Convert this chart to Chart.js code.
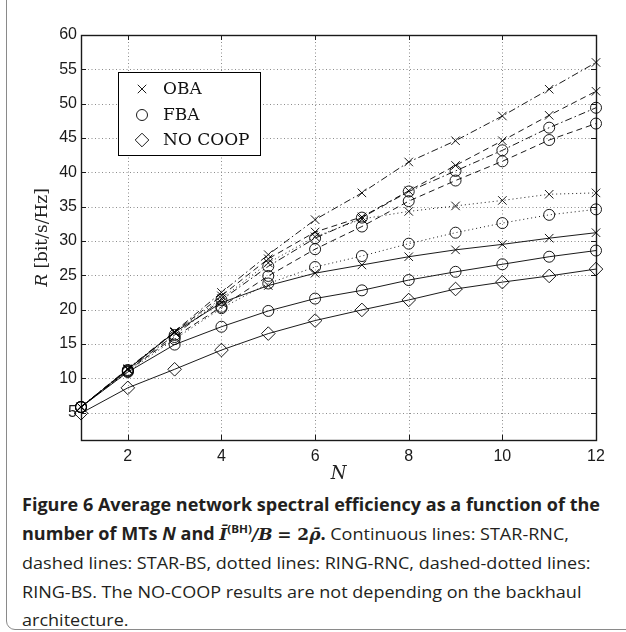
<!DOCTYPE html>
<html>
<head>
<meta charset="utf-8">
<script src="https://cdn.jsdelivr.net/npm/chart.js@4.4.1/dist/chart.umd.min.js"></script>
<style>
  html, body { margin: 0; padding: 0; background: #fff; }
  body { width: 626px; height: 632px; position: relative; overflow: hidden; }
  #frame { position: absolute; left: 6px; top: -20px; width: 700px; height: 650px;
           border: 1px solid #8a8a8a; border-radius: 9px; box-sizing: border-box; }
  #wrap { position: absolute; left: 0; top: 0; width: 626px; height: 490px; }
  #caption { position: absolute; left: 22px; top: 491px; font-family: "Open Sans", sans-serif;
             font-size: 17px; line-height: 28.5px; color: #231f20; white-space: nowrap; }
  #caption .ln { transform-origin: 0 50%; width: max-content; }
  #caption .m { font-family: "DejaVu Serif", serif; font-style: italic; font-weight: bold; font-size: 16px; }
  #caption .r { font-family: "DejaVu Serif", serif; font-weight: bold; font-size: 16px; }
  #caption sup { font-size: 11px; line-height: 0; }
</style>
</head>
<body>
<div id="frame"></div>
<div id="wrap"><canvas id="chart" width="626" height="490"></canvas></div>
<div id="caption">
  <div class="ln"><b>Figure 6 Average network spectral efficiency as a function of the</b></div>
  <div class="ln"><b>number of MTs <i>N</i> and <span class="m">&#298;</span><sup>(BH)</sup><span class="m">/B</span> <span class="r">= 2</span><span class="m">&rho;&#772;</span>.</b> Continuous lines: STAR-RNC,</div>
  <div class="ln">dashed lines: STAR-BS, dotted lines: RING-RNC, dashed-dotted lines:</div>
  <div class="ln">RING-BS. The NO-COOP results are not depending on the backhaul</div>
  <div class="ln">architecture.</div>
</div>
<script>
// number of MTs
const nValues = [1, 2, 3, 4, 5, 6, 7, 8, 9, 10, 11, 12];

// OBA (x markers)
const obaStarRnc  = [5.8, 11.3, 16.7, 21.0, 23.5, 25.3, 26.5, 27.7, 28.7, 29.5, 30.4, 31.2];
const obaStarBs   = [5.8, 11.3, 16.7, 22.0, 27.4, 31.3, 33.5, 37.3, 41.0, 44.6, 48.3, 51.8];
const obaRingRnc  = [5.8, 11.3, 16.7, 21.6, 26.8, 30.6, 33.2, 34.3, 35.1, 35.9, 36.8, 37.0];
const obaRingBs   = [5.8, 11.4, 16.8, 22.5, 28.0, 33.1, 37.0, 41.5, 44.6, 48.2, 52.1, 56.0];

// FBA (o markers)
const fbaStarRnc  = [5.8, 10.9, 14.9, 17.5, 19.8, 21.6, 22.8, 24.3, 25.5, 26.6, 27.7, 28.6];
const fbaStarBs   = [5.8, 11.1, 16.0, 20.4, 24.9, 28.8, 32.1, 35.8, 38.8, 41.6, 44.7, 47.1];
const fbaRingRnc  = [5.8, 11.0, 15.7, 20.2, 23.8, 26.2, 27.8, 29.6, 31.2, 32.6, 33.8, 34.6];
const fbaRingBs   = [5.8, 11.2, 16.3, 21.4, 26.3, 30.4, 33.4, 37.2, 40.2, 43.2, 46.5, 49.4];

// NO COOP (diamonds), same for every backhaul
const noCoop      = [4.9, 8.6, 11.3, 14.1, 16.5, 18.4, 19.95, 21.4, 23.0, 24.0, 24.9, 25.9];

const xTicks = [2, 4, 6, 8, 10, 12];
const yTicks = [5, 10, 15, 20, 25, 30, 35, 40, 45, 50, 55, 60];
const legendLabels = ['OBA', 'FBA', 'NO COOP'];

const DASH = { solid: [], dashed: [6, 4], dotted: [1, 3], dashdot: [7, 3, 1.5, 3] };
const MARK = { oba: 'crossRot', fba: 'circle', nocoop: 'rectRot' };
const RADIUS = { crossRot: 6, circle: 5.5, rectRot: 6.8 };

function series(label, values, marker, dash) {
    return {
        label: label,
        data: values.map((v, i) => ({ x: nValues[i], y: v })),
        borderColor: '#000',
        borderWidth: 0.9,
        borderDash: dash,
        fill: false,
        tension: 0,
        pointStyle: marker,
        pointRadius: RADIUS[marker],
        pointBorderColor: '#000',
        pointBackgroundColor: 'rgba(0,0,0,0)',
        pointBorderWidth: 0.9,
        clip: false
    };
}

const datasets = [
    series('OBA STAR-RNC', obaStarRnc, MARK.oba, DASH.solid),
    series('OBA STAR-BS', obaStarBs, MARK.oba, DASH.dashed),
    series('OBA RING-RNC', obaRingRnc, MARK.oba, DASH.dotted),
    series('OBA RING-BS', obaRingBs, MARK.oba, DASH.dashdot),
    series('FBA STAR-RNC', fbaStarRnc, MARK.fba, DASH.solid),
    series('FBA STAR-BS', fbaStarBs, MARK.fba, DASH.dashed),
    series('FBA RING-RNC', fbaRingRnc, MARK.fba, DASH.dotted),
    series('FBA RING-BS', fbaRingBs, MARK.fba, DASH.dashdot),
    series('NO COOP', noCoop, MARK.nocoop, DASH.solid)
];

// grid, box and inward ticks like matlab
const matlabAxes = {
    id: 'matlabAxes',
    beforeDatasetsDraw(chart) {
        const { ctx, chartArea: a, scales: { x, y } } = chart;
        ctx.save();
        ctx.strokeStyle = '#8c8c8c';
        ctx.lineWidth = 1;
        ctx.setLineDash([1, 2.5]);
        ctx.beginPath();
        xTicks.forEach(v => {
            const px = Math.round(x.getPixelForValue(v)) + 0.5;
            if (px < a.right - 1) { ctx.moveTo(px, a.top); ctx.lineTo(px, a.bottom); }
        });
        yTicks.forEach(v => {
            const py = Math.round(y.getPixelForValue(v)) + 0.5;
            if (py > a.top + 1) { ctx.moveTo(a.left, py); ctx.lineTo(a.right, py); }
        });
        ctx.stroke();

        ctx.setLineDash([]);
        ctx.strokeStyle = '#1a1a1a';
        ctx.lineWidth = 1;
        ctx.beginPath();
        const t = 5;
        xTicks.forEach(v => {
            const px = Math.round(x.getPixelForValue(v)) + 0.5;
            ctx.moveTo(px, a.bottom); ctx.lineTo(px, a.bottom - t);
            ctx.moveTo(px, a.top); ctx.lineTo(px, a.top + t);
        });
        yTicks.forEach(v => {
            const py = Math.round(y.getPixelForValue(v)) + 0.5;
            ctx.moveTo(a.left, py); ctx.lineTo(a.left + t, py);
            ctx.moveTo(a.right, py); ctx.lineTo(a.right - t, py);
        });
        ctx.stroke();

        ctx.lineWidth = 1.4;
        ctx.strokeRect(Math.round(a.left) + 0.5, Math.round(a.top) + 0.5,
                       Math.round(a.right - a.left), Math.round(a.bottom - a.top));
        ctx.restore();
    },
    afterDraw(chart) {
        const { ctx, chartArea: a } = chart;
        ctx.save();

        // legend box
        const bx = 118.5, by = 72.5, bw = 142, bh = 83;
        ctx.fillStyle = '#fff';
        ctx.fillRect(bx, by, bw, bh);
        ctx.strokeStyle = '#000';
        ctx.lineWidth = 1;
        ctx.strokeRect(bx, by, bw, bh);
        const marks = [MARK.oba, MARK.fba, MARK.nocoop];
        const rowY = [89, 115, 140];
        ctx.font = '17px "DejaVu Serif"';
        ctx.textBaseline = 'middle';
        ctx.textAlign = 'left';
        marks.forEach((m, i) => {
            ctx.fillStyle = 'rgba(0,0,0,0)';
            ctx.strokeStyle = '#000';
            ctx.lineWidth = 0.9;
            Chart.helpers.drawPoint(ctx, { pointStyle: m, radius: RADIUS[m], borderWidth: 0.9, rotation: 0 }, 142, rowY[i]);
            ctx.fillStyle = '#111';
            ctx.fillText(legendLabels[i], 163, rowY[i] + 1);
        });

        // axis titles
        ctx.fillStyle = '#222';
        ctx.font = 'italic 18px "DejaVu Serif"';
        ctx.textAlign = 'center';
        ctx.fillText('N', (a.left + a.right) / 2, 474);

        ctx.translate(43, (a.top + a.bottom) / 2);
        ctx.rotate(-Math.PI / 2);
        const fR = 'italic 17px "DejaVu Serif"', fU = '17px "DejaVu Serif"';
        ctx.font = fR; const wR = ctx.measureText('R').width;
        ctx.font = fU; const wU = ctx.measureText(' [bit/s/Hz]').width;
        const x0 = -(wR + wU) / 2;
        ctx.textAlign = 'left';
        ctx.font = fR; ctx.fillText('R', x0, 0);
        ctx.font = fU; ctx.fillText(' [bit/s/Hz]', x0 + wR, 0);
        ctx.restore();
    }
};

const tickFont = { family: 'Liberation Sans', size: 16 };

new Chart(document.getElementById('chart'), {
    type: 'line',
    data: { datasets: datasets },
    options: {
        responsive: false,
        animation: false,
        layout: { padding: { top: 35, right: 30, left: 0, bottom: 0 } },
        plugins: { legend: { display: false }, tooltip: { enabled: false } },
        scales: {
            x: {
                type: 'linear', min: 1, max: 12,
                grid: { display: false, drawTicks: false },
                border: { display: false },
                afterBuildTicks: s => { s.ticks = xTicks.map(v => ({ value: v })); },
                afterFit: s => { s.height = 50; },
                ticks: { font: tickFont, color: '#1a1a1a', padding: 7, maxRotation: 0, autoSkip: false }
            },
            y: {
                type: 'linear', min: 1, max: 60,
                grid: { display: false, drawTicks: false },
                border: { display: false },
                afterBuildTicks: s => { s.ticks = yTicks.map(v => ({ value: v })); },
                afterFit: s => { s.width = 81; },
                ticks: { font: tickFont, color: '#1a1a1a', padding: 4, autoSkip: false }
            }
        }
    },
    plugins: [matlabAxes]
});

// squeeze caption lines to the width of the original typesetting
const lines = document.querySelectorAll('#caption .ln');
const natural = lines[0].getBoundingClientRect().width;
const squeeze = 578 / natural;
lines.forEach(l => { l.style.transform = `scaleX(${squeeze})`; });
</script>
</body>
</html>
